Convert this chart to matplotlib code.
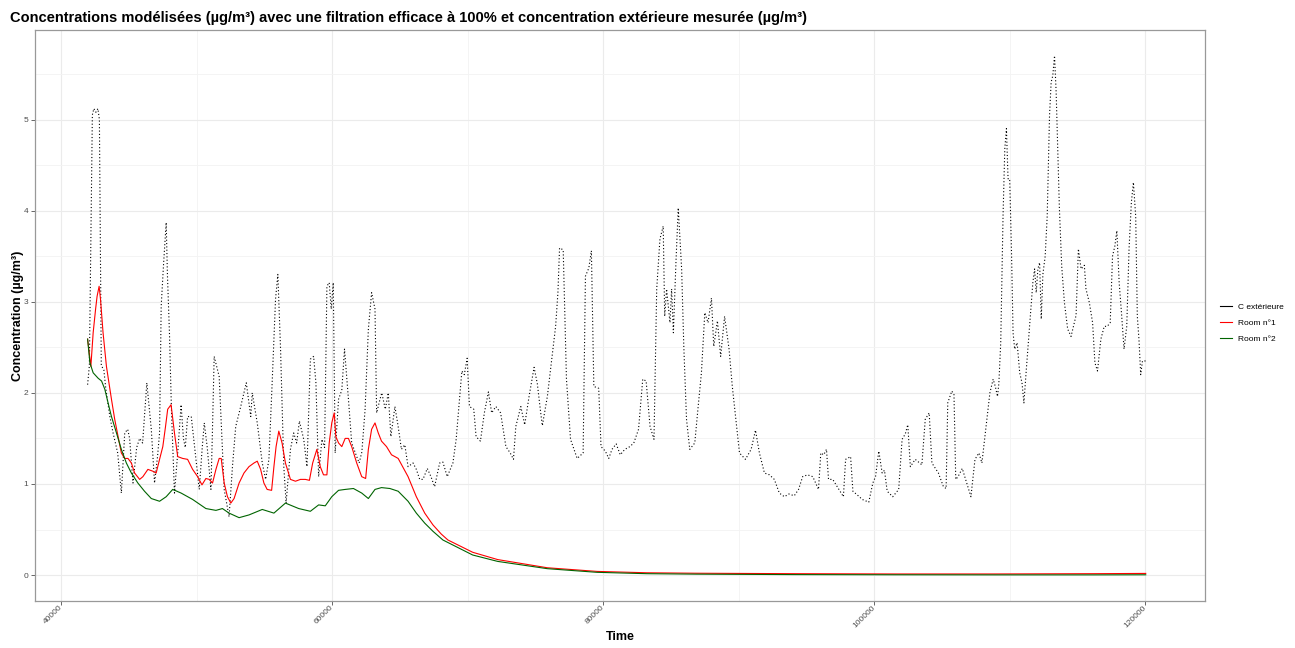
import matplotlib
matplotlib.use('Agg')
import matplotlib.pyplot as plt
from matplotlib.lines import Line2D
from matplotlib.ticker import MultipleLocator

plt.rcParams['font.family'] = ['Liberation Sans', 'DejaVu Sans']

# outdoor concentration (measured)
out_time = [41960, 42090, 42310, 42420, 42570, 42720, 42830, 42970, 43160, 43300,
            43600, 43840, 44180, 44450, 44700, 44920, 45060, 45310, 45580, 45800,
            46020, 46330, 46660, 46900, 47120, 47270, 47390, 47560, 47760, 47850,
            48000, 48150, 48370, 48610, 48860, 49030, 49170, 49340, 49610, 49960,
            50200, 50420, 50570, 50790, 51060, 51160, 51300, 51670, 52040, 52400,
            52650, 52890, 53260, 53670, 54000, 54110, 54480, 54850, 55100, 55340,
            55580, 55830, 56000, 56200, 56440, 56610, 56930, 57170, 57390, 57590,
            57910, 58150, 58400, 58640, 58810, 59010, 59250, 59450, 59620, 59790,
            59940, 60090, 60230, 60480, 60720, 60920, 61210, 61450, 61720, 62000,
            62200, 62440, 62680, 62920, 63170, 63290, 63540, 63670, 63930, 64150,
            64340, 64640, 64880, 65120, 65370, 65610, 65980, 66220, 66470, 66710,
            67030, 67300, 67570, 67940, 68180, 68500, 68920, 69160, 69580, 69760,
            69970, 70140, 70460, 70630, 70950, 71240, 71540, 71780, 72090, 72440,
            72830, 73150, 73390, 73560, 73930, 74220, 74540, 74910, 75150, 75400,
            75520, 75890, 76250, 76500, 76670, 76790, 77060, 77300, 77600, 78090,
            78530, 78700, 78950, 79140, 79320, 79680, 79850, 80170, 80420, 80660,
            80970, 81270, 81610, 81980, 82270, 82620, 82930, 83180, 83470, 83760,
            83960, 84200, 84440, 84550, 84690, 84940, 85060, 85190, 85380, 85550,
            85800, 85960, 86160, 86400, 86770, 87020, 87260, 87510, 87750, 88000,
            88170, 88440, 88680, 88970, 89300, 89540, 89830, 90070, 90510, 90930,
            91250, 91540, 91910, 92280, 92640, 93010, 93380, 93720, 94110, 94430,
            94730, 95090, 95480, 95900, 96070, 96290, 96490, 96640, 96950, 97370,
            97740, 97900, 98270, 98440, 98760, 99130, 99610, 99910, 100110, 100350,
            100600, 100770, 100970, 101380, 101820, 102070, 102310, 102490, 102680, 103040,
            103530, 103780, 104070, 104270, 104750, 105120, 105320, 105440, 105740, 105900,
            106030, 106200, 106510, 106840, 107150, 107450, 107740, 107960, 108180, 108550,
            108790, 108950, 109110, 109210, 109350, 109520, 109650, 109770, 109890, 110010,
            110140, 110260, 110380, 110560, 110750, 110920, 111060, 111240, 111480, 111720,
            111850, 111970, 112090, 112220, 112340, 112460, 112630, 112780, 112950, 113070,
            113190, 113320, 113440, 113560, 113680, 113850, 114050, 114290, 114540, 114780,
            114910, 115080, 115280, 115520, 115640, 115890, 116130, 116300, 116490, 116740,
            116990, 117210, 117430, 117600, 117770, 117920, 118090, 118260, 118450, 118650,
            118820, 118990, 119140, 119310, 119430, 119550, 119680, 119810, 120050]
out_conc = [2.09, 2.30, 5.05, 5.12, 5.08, 5.12, 5.00, 2.30, 2.25, 2.05,
            1.74, 1.56, 1.34, 0.90, 1.56, 1.60, 1.50, 1.01, 1.40, 1.50,
            1.45, 2.11, 1.60, 1.01, 1.30, 1.56, 2.95, 3.40, 3.87, 3.30,
            2.66, 1.80, 0.90, 1.34, 1.87, 1.50, 1.40, 1.74, 1.74, 1.27,
            0.94, 1.40, 1.67, 1.40, 0.94, 1.50, 2.40, 2.18, 0.94, 0.64,
            1.19, 1.63, 1.85, 2.11, 1.74, 2.00, 1.67, 1.23, 1.05, 1.27,
            2.11, 3.03, 3.30, 2.48, 1.19, 0.79, 1.38, 1.56, 1.45, 1.69,
            1.49, 1.19, 2.37, 2.40, 2.11, 1.08, 1.49, 1.40, 3.17, 3.21,
            2.92, 3.21, 1.34, 1.93, 2.03, 2.48, 1.93, 1.45, 1.34, 1.23,
            1.35, 1.82, 2.70, 3.10, 2.92, 1.78, 1.93, 2.00, 1.82, 2.00,
            1.52, 1.85, 1.63, 1.38, 1.43, 1.19, 1.23, 1.16, 1.05, 1.05,
            1.17, 1.08, 0.97, 1.23, 1.24, 1.08, 1.23, 1.49, 2.24, 2.20,
            2.38, 1.85, 1.82, 1.52, 1.47, 1.78, 2.01, 1.78, 1.85, 1.78,
            1.41, 1.34, 1.27, 1.63, 1.85, 1.65, 1.96, 2.28, 2.10, 1.78,
            1.64, 1.96, 2.42, 2.73, 3.10, 3.59, 3.57, 2.15, 1.49, 1.28,
            1.34, 3.28, 3.37, 3.56, 2.07, 2.05, 1.41, 1.36, 1.28, 1.38,
            1.44, 1.32, 1.38, 1.41, 1.45, 1.60, 2.15, 2.13, 1.63, 1.49,
            3.14, 3.69, 3.83, 2.84, 3.14, 2.77, 3.14, 2.66, 3.43, 4.03,
            3.36, 2.51, 1.71, 1.38, 1.45, 1.85, 2.22, 2.88, 2.77, 3.04,
            2.51, 2.79, 2.40, 2.84, 2.48, 2.07, 1.67, 1.34, 1.27, 1.38,
            1.59, 1.34, 1.12, 1.10, 1.05, 0.90, 0.86, 0.89, 0.87, 0.94,
            1.08, 1.10, 1.08, 0.94, 1.34, 1.32, 1.38, 1.05, 1.05, 0.95,
            0.86, 1.27, 1.30, 0.92, 0.88, 0.83, 0.80, 1.01, 1.08, 1.36,
            1.12, 1.15, 0.92, 0.86, 0.94, 1.49, 1.55, 1.65, 1.19, 1.27,
            1.21, 1.71, 1.78, 1.23, 1.12, 0.97, 0.95, 1.89, 2.02, 1.98,
            1.05, 1.08, 1.17, 1.01, 0.86, 1.27, 1.34, 1.23, 1.52, 2.00,
            2.15, 2.07, 1.96, 2.10, 2.55, 3.94, 4.68, 4.90, 4.35, 4.35,
            3.58, 2.66, 2.48, 2.55, 2.22, 2.11, 1.89, 2.26, 2.73, 3.21,
            3.36, 3.10, 3.36, 3.43, 2.81, 3.30, 3.50, 3.94, 5.04, 5.41,
            5.48, 5.70, 5.30, 4.68, 4.02, 3.39, 2.99, 2.70, 2.62, 2.77,
            2.85, 3.58, 3.36, 3.40, 3.14, 2.99, 2.77, 2.33, 2.24, 2.59,
            2.73, 2.73, 2.77, 3.50, 3.61, 3.78, 3.21, 2.88, 2.48, 2.73,
            3.58, 4.09, 4.31, 3.94, 2.84, 2.59, 2.20, 2.35, 2.35]

# modelled concentration, room 1
room1_time = [41960, 42200, 42370, 42550, 42660, 42810, 42910, 43100, 43350, 43720,
              43960, 44210, 44450, 44700, 44940, 45190, 45430, 45800, 46040, 46410,
              46770, 47020, 47270, 47510, 47710, 47870, 48120, 48370, 48610, 48980,
              49340, 49710, 50080, 50400, 50690, 50940, 51180, 51430, 51670, 51820,
              52040, 52280, 52530, 52770, 53140, 53500, 53870, 54240, 54480, 54730,
              54970, 55210, 55540, 55710, 55870, 56070, 56310, 56560, 56930, 57300,
              57670, 58030, 58330, 58570, 58880, 59130, 59370, 59620, 59790, 59980,
              60160, 60280, 60480, 60720, 60970, 61210, 61450, 61820, 62190, 62480,
              62680, 62920, 63170, 63410, 63650, 64020, 64390, 64640, 64880, 65610,
              66220, 66840, 67450, 68060, 68550, 70380, 72220, 75890, 79560, 83230,
              86900, 94240, 101570, 108910, 116250, 120050]
room1_conc = [2.59, 2.29, 2.66, 2.92, 3.06, 3.17, 3.03, 2.66, 2.29, 1.93,
              1.71, 1.52, 1.34, 1.28, 1.28, 1.23, 1.12, 1.05, 1.08, 1.16,
              1.14, 1.12, 1.27, 1.41, 1.63, 1.82, 1.87, 1.56, 1.30, 1.28,
              1.27, 1.16, 1.08, 0.99, 1.06, 1.05, 1.01, 1.16, 1.28, 1.28,
              1.01, 0.86, 0.79, 0.84, 1.01, 1.12, 1.19, 1.23, 1.25, 1.16,
              1.01, 0.94, 0.93, 1.19, 1.41, 1.58, 1.45, 1.23, 1.05, 1.03,
              1.05, 1.05, 1.04, 1.23, 1.38, 1.19, 1.10, 1.10, 1.45, 1.67,
              1.78, 1.52, 1.45, 1.41, 1.50, 1.50, 1.41, 1.23, 1.08, 1.06,
              1.38, 1.60, 1.67, 1.56, 1.47, 1.41, 1.32, 1.30, 1.28, 1.08,
              0.86, 0.68, 0.55, 0.45, 0.385, 0.25, 0.17, 0.08, 0.04, 0.025,
              0.02, 0.015, 0.012, 0.012, 0.015, 0.018]

# modelled concentration, room 2
room2_time = [41960, 42130, 42370, 42740, 42990, 43230, 43470, 43720, 44090, 44450,
              44820, 45190, 45670, 46160, 46660, 47270, 47760, 48240, 48860, 49710,
              50690, 51430, 51910, 52400, 53140, 53870, 54850, 55710, 56560, 57540,
              58400, 59010, 59500, 59980, 60480, 60970, 61580, 62190, 62680, 63170,
              63650, 64270, 64880, 65610, 66220, 66840, 67450, 68180, 70380, 72220,
              75890, 79560, 83230, 86900, 94240, 101570, 108910, 116250, 120050]
room2_conc = [2.59, 2.33, 2.22, 2.16, 2.13, 2.04, 1.89, 1.74, 1.56, 1.38,
              1.23, 1.12, 1.01, 0.92, 0.84, 0.81, 0.86, 0.94, 0.90, 0.83,
              0.73, 0.71, 0.73, 0.68, 0.63, 0.66, 0.72, 0.68, 0.79, 0.73,
              0.70, 0.77, 0.76, 0.86, 0.93, 0.94, 0.95, 0.90, 0.84, 0.94,
              0.96, 0.95, 0.92, 0.81, 0.68, 0.57, 0.48, 0.385, 0.22, 0.15,
              0.07, 0.03, 0.015, 0.01, 0.005, 0.003, 0.002, 0.002, 0.003]

series_labels = ['C extérieure', 'Room n°1', 'Room n°2']
series_colors = ['black', 'red', '#006400']

fig = plt.figure(figsize=(12.95, 6.48), dpi=100)
ax = fig.add_axes([0.027, 0.0725, 0.9035, 0.8815])

ax.plot(out_time, out_conc, color='black', lw=0.8, ls=(0, (1, 2)))
ax.plot(room1_time, room1_conc, color=series_colors[1], lw=0.8)
ax.plot(room2_time, room2_conc, color=series_colors[2], lw=0.8)

ax.set_xlim(38075, 124425)
ax.set_ylim(-0.285, 5.985)
ax.xaxis.set_major_locator(MultipleLocator(20000))
ax.xaxis.set_minor_locator(MultipleLocator(10000))
ax.yaxis.set_major_locator(MultipleLocator(1))
ax.yaxis.set_minor_locator(MultipleLocator(0.5))
ax.grid(which='major', color='#ebebeb', lw=0.8)
ax.grid(which='minor', color='#f3f3f3', lw=0.6)
ax.set_axisbelow(True)
for s in ax.spines.values():
    s.set_color('#999999')
    s.set_linewidth(0.9)
ax.tick_params(which='major', length=3, width=0.7, color='#666666',
               labelsize=6, labelcolor='#4d4d4d', pad=2)
ax.tick_params(which='minor', length=0)
ax.tick_params(axis='x', pad=1)
ax.set_xticklabels([f'{int(v)}' for v in ax.get_xticks()])
for lab in ax.get_xticklabels():
    lab.set_rotation(45)
    lab.set_ha('right')
    lab.set_va('center')
    lab.set_rotation_mode('anchor')

ax.set_xlabel('Time', fontsize=9, fontweight='bold')
ax.set_ylabel('Concentration (µg/m³)', fontsize=9, fontweight='bold')
ax.xaxis.set_label_coords(0.5, -0.052)
ax.yaxis.set_label_coords(-0.0094, 0.5)
fig.text(0.008, 0.972,
         'Concentrations modélisées (µg/m³) avec une filtration efficace à 100% '
         'et concentration extérieure mesurée (µg/m³)',
         fontsize=10.5, fontweight='bold', va='center', ha='left')

handles = [Line2D([], [], color=c, lw=0.8) for c in series_colors]
fig.legend(handles, series_labels, loc='center left', bbox_to_anchor=(0.936, 0.5015),
           frameon=False, fontsize=6, handlelength=1.5, labelspacing=1.0,
           handletextpad=0.7)

fig.savefig('out.png', dpi=100)
